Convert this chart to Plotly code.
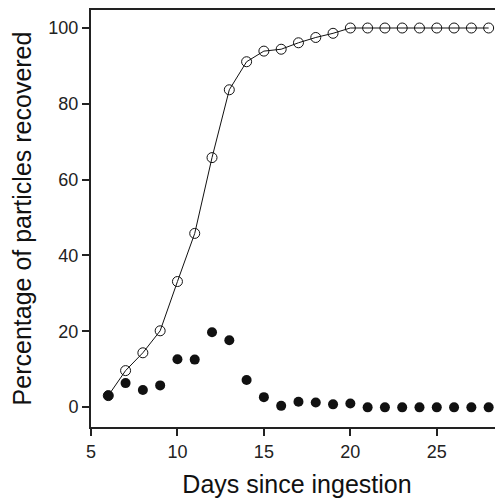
import plotly.graph_objects as go

days = list(range(6, 29))
cumulative = [3.0, 9.6, 14.3, 20.1, 33.1, 45.8, 65.8, 83.7, 91.1, 93.9, 94.4, 96.1, 97.5, 98.6,
              100, 100, 100, 100, 100, 100, 100, 100, 100]
daily = [3.0, 6.3, 4.5, 5.7, 12.6, 12.5, 19.7, 17.6, 7.1, 2.6, 0.3, 1.4, 1.2, 0.7, 0.9,
         -0.1, -0.1, -0.1, -0.1, -0.1, -0.1, -0.1, -0.1]
x_ticks = [5, 10, 15, 20, 25]
y_ticks = [0, 20, 40, 60, 80, 100]

fig = go.Figure()
fig.add_trace(go.Scatter(
    x=days, y=cumulative, mode="lines+markers",
    line=dict(color="#111111", width=1),
    marker=dict(symbol="circle-open", size=10, color="#111111", line=dict(width=1)),
    showlegend=False))
fig.add_trace(go.Scatter(
    x=days, y=daily, mode="markers",
    marker=dict(symbol="circle", size=10, color="#111111"),
    showlegend=False))

axis_font = dict(family="Liberation Sans, Arial, sans-serif", size=18, color="#222222")
title_font = dict(family="Liberation Sans, Arial, sans-serif", size=25, color="#111111")

fig.update_layout(
    width=495, height=490,
    margin=dict(l=83, r=0, t=2, b=71),
    paper_bgcolor="white", plot_bgcolor="white",
    xaxis=dict(range=[5, 28.83], tickvals=x_ticks, ticks="outside", ticklen=7, tickwidth=1.5,
               tickcolor="#222222", showline=True, linewidth=2, linecolor="#222222",
               mirror=True, showgrid=False, zeroline=False, tickfont=axis_font,
               title=dict(text="Days since ingestion", font=title_font, standoff=15)),
    yaxis=dict(range=[-5.28, 104.75], tickvals=y_ticks, ticks="outside", ticklen=7, tickwidth=1.5,
               tickcolor="#222222", showline=True, linewidth=2, linecolor="#222222",
               showgrid=False, zeroline=False, tickfont=axis_font,
               title=dict(text="Percentage of particles recovered", font=title_font, standoff=13)),
)

fig.write_html("out.html")
